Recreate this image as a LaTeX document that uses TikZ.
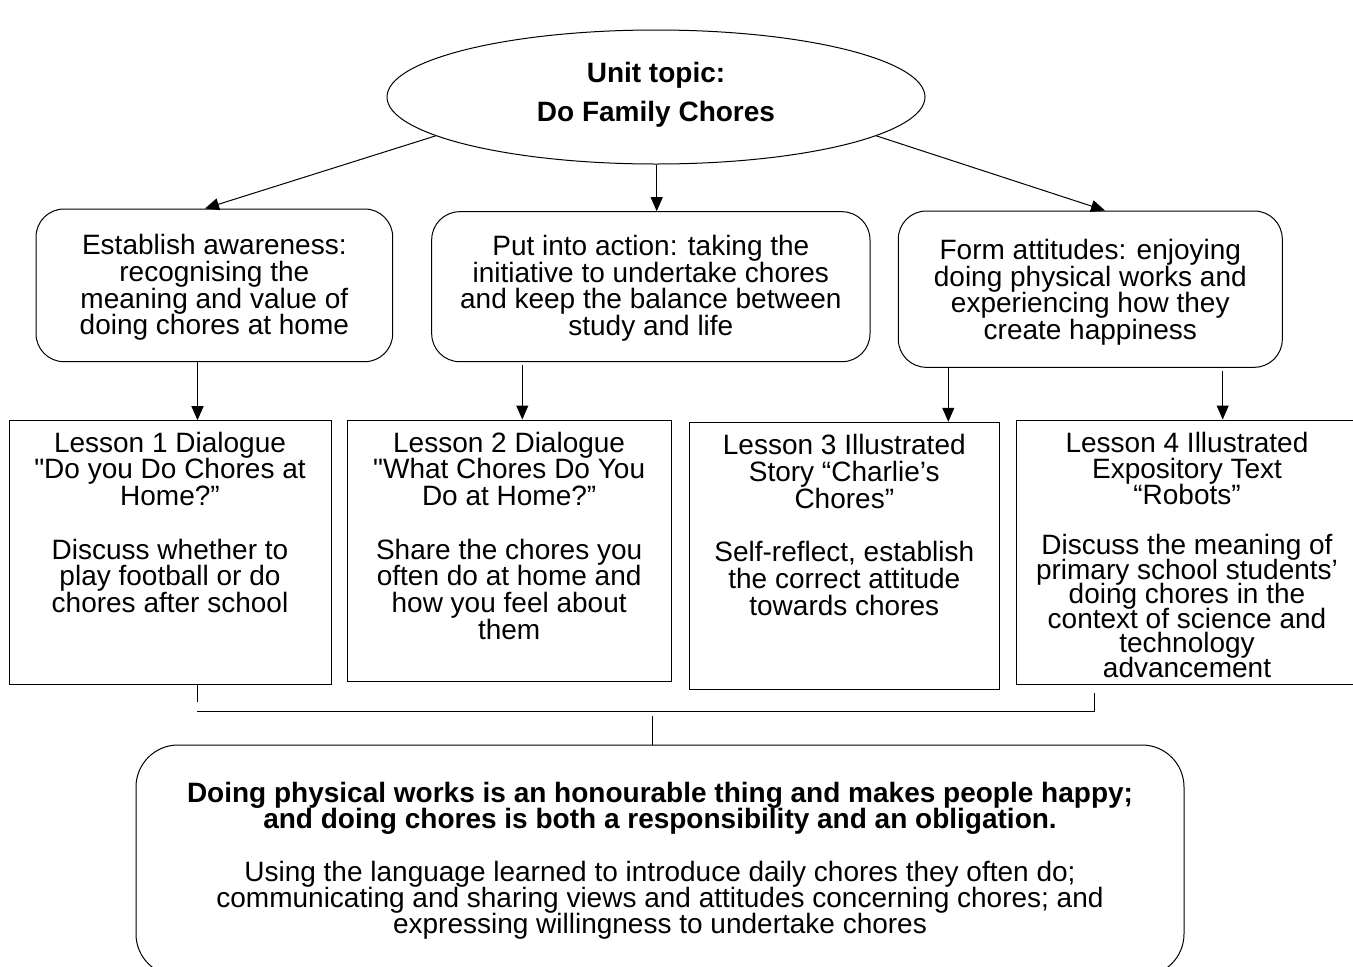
\documentclass[tikz,border=0pt]{standalone}
\usepackage{fontspec}
\setmainfont{Liberation Sans}[Ligatures=TeXOff]
\usetikzlibrary{shapes.geometric,arrows.meta,calc}
\newcommand{\tstrut}{\rule{0pt}{0.75em}}
\newcommand{\tightlines}{\lineskiplimit=-40pt\lineskip=0pt\relax}
\begin{document}
\begin{tikzpicture}[x=1pt,y=-1pt,line width=1pt,
  arr/.style={-{Triangle[length=14pt,width=12pt]}},
  rbox/.style={draw,rectangle,rounded corners=28pt,inner sep=0},
  lbox/.style={draw,rectangle,inner sep=0},
  bbox/.style={draw,rectangle,rounded corners=42pt,inner sep=0},
  topic/.style={draw,ellipse,inner sep=0},
  txt/.style={align=center,inner sep=0,anchor=north,font=\fontsize{28pt}{26.7pt}\selectfont\tightlines},
  txttight/.style={align=center,inner sep=0,anchor=north,font=\fontsize{28pt}{24.5pt}\selectfont\tightlines},
  txtb/.style={align=center,inner sep=0,anchor=north,font=\fontsize{28pt}{26pt}\selectfont\bfseries\tightlines},
  txtr/.style={align=center,inner sep=0,anchor=north,font=\fontsize{28pt}{26pt}\selectfont\tightlines},
]
\useasboundingbox (0,0) rectangle (1353,967);
\fill[white] (0,0) rectangle (1353,967);
\clip (0,0) rectangle (1353,967);

% topic
\node[topic,minimum width=538pt,minimum height=134pt] (e) at (656,97) {};
\node[txt,font=\fontsize{28pt}{39pt}\selectfont\bfseries\tightlines] (et) at (656,61) {\tstrut Unit topic:\\Do Family Chores};

% aims
\node[rbox,minimum width=356.7pt,minimum height=152.7pt] (a1) at (214.35,285.35) {};
\node[rbox,minimum width=438.3pt,minimum height=150pt] (a2) at (650.85,286.7) {};
\node[rbox,minimum width=384pt,minimum height=156.3pt] (a3) at (1090.3,289.15) {};
\node[txt] (a1t) at (214.35,233.3) {\tstrut Establish awareness:\\recognising the\\meaning and value of\\doing chores at home};
\node[txt] (a2t) at (650.85,234) {\tstrut Put into action: taking the\\initiative to undertake chores\\and keep the balance between\\study and life};
\node[txt] (a3t) at (1090.3,238) {\tstrut Form attitudes: enjoying\\doing physical works and\\experiencing how they\\create happiness};

% lessons
\node[lbox,minimum width=322pt,minimum height=263.6pt] (l1) at (170,552.5) {};
\node[lbox,minimum width=323.7pt,minimum height=261.7pt] (l2) at (509.15,550.85) {};
\node[lbox,minimum width=310pt,minimum height=267pt] (l3) at (844.3,555.8) {};
\node[lbox,minimum width=340.3pt,minimum height=264pt] (l4) at (1186.85,552) {};
\node[txt] (l1t) at (170,430.7) {\tstrut Lesson 1 Dialogue\\"Do you Do Chores at\\Home?”\\[26.7pt]Discuss whether to\\play football or do\\chores after school};
\node[txt] (l2t) at (509.15,430.7) {\tstrut Lesson 2 Dialogue\\"What Chores Do You\\Do at Home?”\\[26.7pt]Share the chores you\\often do at home and\\how you feel about\\them};
\node[txt] (l3t) at (844.3,433.3) {\tstrut Lesson 3 Illustrated\\Story “Charlie’s\\Chores”\\[26.7pt]Self-reflect, establish\\the correct attitude\\towards chores};
\node[txt,font=\fontsize{28pt}{26pt}\selectfont\tightlines] (l4t) at (1187,430.7) {\tstrut Lesson 4 Illustrated\\Expository Text\\“Robots”};
\node[txttight] (l4d) at (1187,533) {\tstrut Discuss the meaning of\\primary school students’\\doing chores in the\\context of science and\\technology\\advancement};

% summary
\node[bbox,minimum width=1048pt,minimum height=231pt] (b) at (660,860.5) {};
\node[txtb] (bt1) at (660,781) {\tstrut Doing physical works is an honourable thing and makes people happy;\\and doing chores is both a responsibility and an obligation.};
\node[txtr] (bt2) at (660,860) {\tstrut Using the language learned to introduce daily chores they often do;\\communicating and sharing views and attitudes concerning chores; and\\expressing willingness to undertake chores};

% helper coordinates
\coordinate (xm) at (656.7,0);
\coordinate (xa) at (205,0);
\coordinate (xc) at (1105,0);
\coordinate (x1) at (197.5,0);
\coordinate (x2) at (522.3,0);
\coordinate (x3) at (948.3,0);
\coordinate (x4) at (1222.7,0);
\coordinate (jl) at (197.3,711.5);
\coordinate (jr) at (1094.5,711.5);
\coordinate (jc) at (652.7,716);

% connectors
\draw[arr] (e.190) -- (a1.north -| xa);
\draw[arr] (e.south -| xm) -- (a2.north -| xm);
\draw[arr] (e.350) -- (a3.north -| xc);
\draw[arr] (a1.south -| x1) -- (l1.north -| x1);
\draw[arr,shorten <=3pt] (a2.south -| x2) -- (l2.north -| x2);
\draw[arr] (a3.south -| x3) -- (l3.north -| x3);
\draw[arr,shorten <=3pt] (a3.south -| x4) -- (l4.north -| x4);
\draw (l1.south -| jl) -- ++(0,17.5);
\draw[shorten >=8pt] (jl) -- (jr) -- (l4.south -| jr);
\draw (jc) -- (b.north -| jc);
\end{tikzpicture}
\end{document}
